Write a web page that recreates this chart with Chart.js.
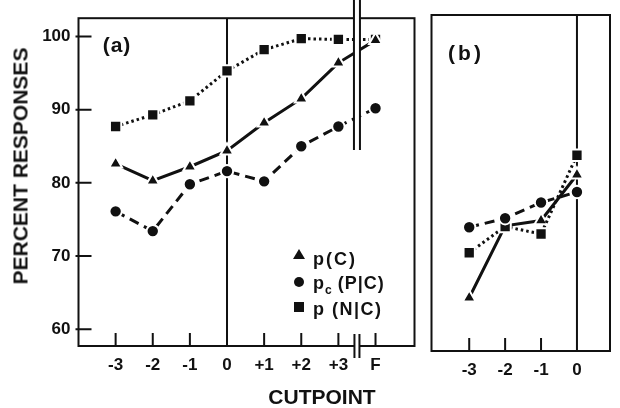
<!DOCTYPE html>
<html>
<head>
<meta charset="utf-8">
<script src="https://cdn.jsdelivr.net/npm/chart.js@4.4.0/dist/chart.umd.min.js"></script>
<style>
  body { margin: 0; background: #fff; }
  #wrap { position: relative; width: 620px; height: 408px; background: #fff;
          font-family: "Liberation Sans", Arial, sans-serif; font-weight: bold; color: #111; }
  canvas { position: absolute; left: 0; top: 0; }
  .txt { position: absolute; white-space: nowrap; line-height: 1; }
  .mk { position: absolute; background: #111; }
  .tri { position: absolute; width: 0; height: 0; border-left: 6px solid transparent;
         border-right: 6px solid transparent; border-bottom: 10px solid #111; }
</style>
</head>
<body>
<div id="wrap">
  <canvas id="chartA" width="620" height="408"></canvas>
  <canvas id="chartB" width="620" height="408"></canvas>

  <div class="txt" style="left:20px;top:166px;font-size:21px;transform:translate(-50%,-50%) rotate(-90deg);">PERCENT RESPONSES</div>
  <div class="txt" style="left:322px;top:396px;font-size:21px;transform:translate(-50%,-50%);">CUTPOINT</div>
  <div class="txt" style="left:117px;top:44px;font-size:21px;letter-spacing:1px;transform:translate(-50%,-50%);">(a)</div>
  <div class="txt" style="left:466px;top:52px;font-size:21px;letter-spacing:3px;transform:translate(-50%,-50%);">(b)</div>

  <!-- legend -->
  <div class="tri" style="left:293px;top:249px;"></div>
  <div class="txt" style="left:313px;top:250px;font-size:18px;letter-spacing:2px;">p(C)</div>
  <div class="mk" style="left:294px;top:277px;width:10px;height:10px;border-radius:50%;"></div>
  <div class="txt" style="left:313px;top:274px;font-size:18px;letter-spacing:1px;">p<sub style="font-size:12px;letter-spacing:0;">c</sub> (P|C)</div>
  <div class="mk" style="left:294px;top:302px;width:10px;height:10px;"></div>
  <div class="txt" style="left:313px;top:300px;font-size:18px;letter-spacing:1.5px;">p (N|C)</div>
</div>

<script>
var INK = '#111';

// cutpoints
var cutA = [-3, -2, -1, 0, 1, 2, 3, 4];
var cutLabelsA = ['-3', '-2', '-1', '0', '+1', '+2', '+3', 'F'];
var cutB = [-3, -2, -1, 0];
var cutLabelsB = ['-3', '-2', '-1', '0'];
var yTicks = [60, 70, 80, 90, 100];

// panel (a)
var pC_a   = [82.6, 80.3, 82.2, 84.4, 88.2, 91.5, 96.4, 99.5];
var pcPC_a = [76.1, 73.4, 79.8, 81.6, 80.2, 85.0, 87.7, 90.2];
var pNC_a  = [87.7, 89.3, 91.2, 95.3, 98.2, 99.7, 99.6, 99.6];

// panel (b)
var pC_b   = [64.8, 74.4, 75.1, 81.2];
var pcPC_b = [74.2, 75.4, 77.5, 78.9];
var pNC_b  = [70.8, 74.3, 73.3, 83.8];

var tickFont = { family: '"Liberation Sans", Arial, sans-serif', size: 17, weight: 'bold' };

function series(xs, ys, shape, dash, r) {
  return {
    data: xs.map(function(x, i) { return { x: x, y: ys[i] }; }),
    borderColor: INK,
    backgroundColor: INK,
    borderWidth: 3,
    borderDash: dash,
    pointStyle: shape,
    pointRadius: r,
    pointHoverRadius: r,
    pointBackgroundColor: INK,
    pointBorderColor: '#fff',
    pointBorderWidth: 2,
    tension: 0
  };
}

// frame, inward ticks, zero line, axis break
var framePlugin = {
  id: 'frame',
  beforeDatasetsDraw: function(chart, args, opts) {
    var ctx = chart.ctx, a = chart.chartArea, x = chart.scales.x, y = chart.scales.y;
    ctx.save();
    ctx.strokeStyle = INK;
    ctx.lineWidth = 2;
    ctx.strokeRect(a.left, a.top, a.right - a.left, a.bottom - a.top);
    ctx.beginPath();
    var x0 = x.getPixelForValue(0);
    ctx.moveTo(x0, a.top); ctx.lineTo(x0, a.bottom);
    x.ticks.forEach(function(t) {
      var px = x.getPixelForValue(t.value);
      ctx.moveTo(px, a.bottom); ctx.lineTo(px, a.bottom - 13);
    });
    if (opts.yTicks) {
      y.ticks.forEach(function(t) {
        var py = y.getPixelForValue(t.value);
        ctx.moveTo(a.left - 3, py); ctx.lineTo(a.left + 13, py);
      });
    }
    ctx.stroke();
    ctx.restore();
  },
  afterDatasetsDraw: function(chart, args, opts) {
    if (opts.breakAt === undefined) return;
    var ctx = chart.ctx, a = chart.chartArea;
    var xb = chart.scales.x.getPixelForValue(opts.breakAt);
    ctx.save();
    ctx.fillStyle = '#fff';
    ctx.fillRect(xb - 3, 0, 6, 150);
    ctx.fillRect(xb - 2.5, a.bottom - 3, 5, 6);
    ctx.strokeStyle = INK;
    ctx.lineWidth = 2;
    ctx.beginPath();
    ctx.moveTo(xb - 3, 0); ctx.lineTo(xb - 3, 150);
    ctx.moveTo(xb + 3, 0); ctx.lineTo(xb + 3, 150);
    ctx.moveTo(xb - 2.5, a.bottom - 12); ctx.lineTo(xb - 2.5, a.bottom + 12);
    ctx.moveTo(xb + 2.5, a.bottom - 12); ctx.lineTo(xb + 2.5, a.bottom + 12);
    ctx.stroke();
    ctx.restore();
  }
};

function xScale(cuts, labels, min, max, h) {
  return {
    type: 'linear', min: min, max: max,
    afterBuildTicks: function(s) { s.ticks = cuts.map(function(v) { return { value: v }; }); },
    afterFit: function(s) { s.height = h; },
    grid: { display: false, drawTicks: false },
    border: { display: false },
    ticks: {
      callback: function(v) { return labels[cuts.indexOf(v)]; },
      font: tickFont, color: INK, padding: 9, maxRotation: 0, autoSkip: false
    }
  };
}

var common = {
  responsive: false,
  animation: false,
  devicePixelRatio: 1,
  plugins: { legend: { display: false }, tooltip: { enabled: false } }
};

var chartA = new Chart(document.getElementById('chartA'), {
  type: 'line',
  data: {
    datasets: [
      series(cutA, pcPC_a, 'circle', [10, 6], 6.2),
      series(cutA, pC_a, 'triangle', [], 7.5),
      series(cutA, pNC_a, 'rect', [2.5, 3], 8)
    ]
  },
  options: Object.assign({}, common, {
    layout: { padding: { left: 0, right: 205.5, top: 10, bottom: 0 } },
    scales: {
      x: xScale(cutA, cutLabelsA, -4, 5.05, 62),
      y: {
        min: 57.7, max: 102.5,
        afterBuildTicks: function(s) { s.ticks = yTicks.map(function(v) { return { value: v }; }); },
        afterFit: function(s) { s.width = 78.5; },
        grid: { display: false, drawTicks: false },
        border: { display: false },
        ticks: { font: tickFont, color: INK, padding: 8 }
      }
    },
    plugins: Object.assign({}, common.plugins, { frame: { yTicks: true, breakAt: 3.5 } })
  }),
  plugins: [framePlugin]
});

var chartB = new Chart(document.getElementById('chartB'), {
  type: 'line',
  data: {
    datasets: [
      series(cutB, pcPC_b, 'circle', [10, 6], 6.2),
      series(cutB, pNC_b, 'rect', [2.5, 3], 8),
      series(cutB, pC_b, 'triangle', [], 7.5)
    ]
  },
  options: Object.assign({}, common, {
    layout: { padding: { left: 431.5, right: 3, top: 15, bottom: 0 } },
    scales: {
      x: xScale(cutB, cutLabelsB, -4.05, 0.92, 57),
      y: { display: false, min: 57.7, max: 102.5 }
    },
    plugins: Object.assign({}, common.plugins, { frame: { yTicks: false } })
  }),
  plugins: [framePlugin]
});
</script>
</body>
</html>
